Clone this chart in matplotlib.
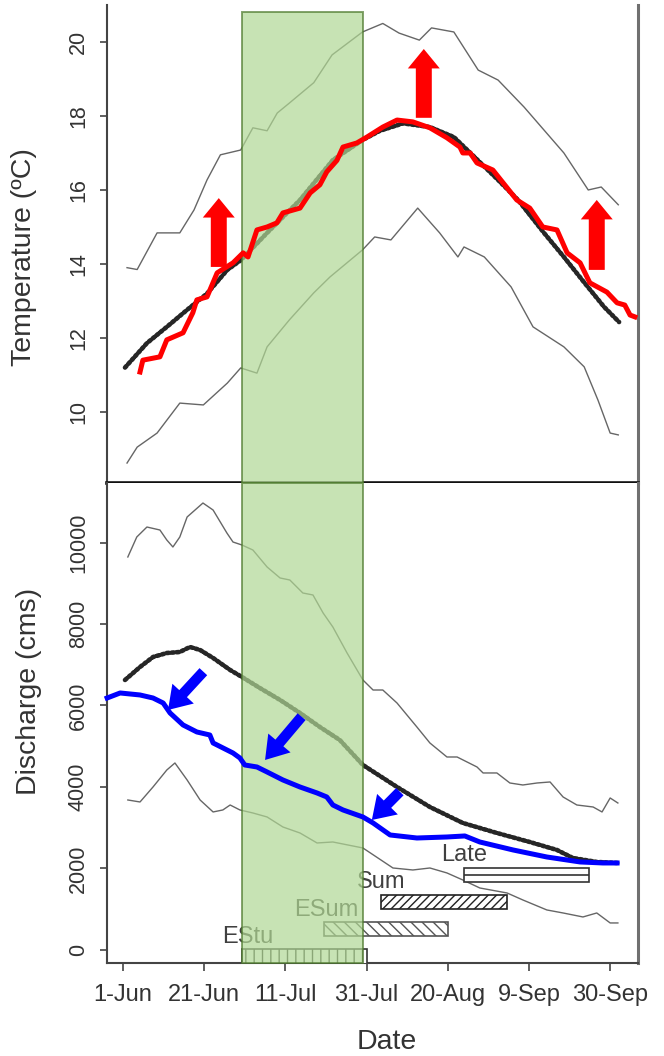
import numpy as np
import matplotlib
matplotlib.use("Agg")
import matplotlib.pyplot as plt
import matplotlib.patches as mpatches

plt.rcParams["font.family"] = ["Liberation Sans", "DejaVu Sans"]
plt.rcParams["hatch.linewidth"] = 1.0

# x is days since 1 June
tick_days = [0, 20, 40, 60, 80, 100, 120]
tick_labels = ["1-Jun", "21-Jun", "11-Jul", "31-Jul", "20-Aug", "9-Sep", "30-Sep"]

# water temperature (deg C)
tmax_day = [1, 3.5, 8.4, 14, 17.5, 20.7, 24, 29, 32, 35.5, 38, 41, 47, 51.5, 59, 64, 68, 73, 76,
            81.5, 87.5, 92.4, 98.8, 108.6, 114.6, 117.8, 122]
tmax_val = [13.9, 13.85, 14.84, 14.84, 15.46, 16.27, 16.95, 17.08, 17.68, 17.6, 18.08, 18.35, 18.9,
            19.65, 20.27, 20.5, 20.24, 20.05, 20.38, 20.27, 19.24, 18.97, 18.24, 17.0, 16.0, 16.08, 15.6]

tmin_day = [1, 3.5, 8.4, 14, 19.8, 25.7, 29, 33, 35.5, 41, 47, 51, 59, 62, 66, 72.6, 78, 82.5, 84,
            89, 95.6, 101, 108.6, 113.6, 117, 120, 122]
tmin_val = [8.62, 9.05, 9.43, 10.24, 10.19, 10.78, 11.19, 11.05, 11.76, 12.49, 13.22, 13.65, 14.38,
            14.73, 14.65, 15.51, 14.84, 14.19, 14.46, 14.19, 13.38, 12.3, 11.76, 11.22, 10.32, 9.43, 9.38]

tmean_day = [0.5, 5.9, 10.8, 15.8, 20.7, 25.7, 29, 35.5, 43.6, 51.7, 59, 63.3, 69, 75.6, 81.5, 86.5,
             92.4, 97.3, 103.7, 108.6, 113.6, 118.5, 122.2]
tmean_val = [11.2, 11.86, 12.3, 12.76, 13.2, 13.84, 14.1, 14.84, 15.73, 16.81, 17.35, 17.6, 17.8,
             17.7, 17.43, 16.9, 16.27, 15.73, 14.84, 14.19, 13.5, 12.84, 12.43]

tfut_day = [4.2, 4.9, 9.1, 10.8, 14.8, 17.2, 18.2, 20.7, 23.2, 27.1, 29.6, 30.8, 33.0, 35.5, 37.9,
            39.4, 43.6, 46.1, 48.5, 50.2, 52.7, 54.2, 57.6, 60.1, 64.0, 67.5, 71.4, 75.6, 79.8, 83.0,
            83.7, 85.5, 87.2, 91.1, 97.0, 100.2, 103.4, 106.9, 109.4, 112.6, 115.0, 119.2, 121.7,
            123.6, 124.9, 126.1]
tfut_val = [11.08, 11.4, 11.49, 11.95, 12.14, 12.68, 13.03, 13.11, 13.76, 14.03, 14.3, 14.19, 14.92,
            15.0, 15.11, 15.38, 15.51, 15.92, 16.14, 16.49, 16.8, 17.16, 17.27, 17.43, 17.7, 17.89,
            17.84, 17.68, 17.41, 17.16, 17.0, 17.0, 16.73, 16.54, 15.73, 15.51, 15.0, 14.92, 14.3,
            14.03, 13.49, 13.24, 12.95, 12.89, 12.62, 12.57]

# discharge (cms)
qmax_day = [1.2, 3.4, 5.9, 9.1, 10.8, 12.3, 14.0, 15.8, 19.7, 22.2, 25.6, 27.1, 29.3, 32.0, 35.5,
            38.7, 41.1, 44.3, 46.8, 49.3, 51.7, 55.2, 59.1, 61.6, 64.0, 67.5, 72.4, 75.6, 79.8, 82.3,
            87.2, 88.7, 92.1, 95.3, 98.5, 102.0, 105.2, 108.4, 111.8, 115.8, 118.0, 120.0, 121.9]
qmax_val = [9645, 10135, 10380, 10307, 10061, 9890, 10135, 10626, 10969, 10797, 10233, 10012, 9939,
            9816, 9399, 9129, 9080, 8761, 8712, 8270, 7926, 7288, 6626, 6380, 6380, 6061, 5472, 5080,
            4736, 4736, 4491, 4344, 4344, 4098, 4049, 4098, 4123, 3755, 3558, 3509, 3387, 3730, 3607]

qmean_day = [0.5, 4.2, 7.4, 10.8, 14.0, 16.5, 19.0, 22.2, 26.4, 29.3, 33.7, 38.7, 43.6, 48.5, 53.4,
             59.1, 67.5, 75.6, 83.7, 92.1, 100.2, 106.9, 110.8, 116.7, 121.9]
qmean_val = [6626, 6945, 7190, 7288, 7313, 7436, 7362, 7166, 6871, 6700, 6430, 6135, 5816, 5472, 5153,
             4540, 4000, 3509, 3117, 2871, 2650, 2454, 2258, 2160, 2135]

qmin_day = [1.2, 4.2, 7.4, 10.8, 12.8, 15.8, 19.0, 22.2, 24.6, 26.4, 28.8, 32.0, 35.5, 39.4, 43.6,
            47.8, 51.7, 59.1, 66.5, 71.4, 75.6, 79.8, 83.7, 87.9, 94.6, 98.5, 104.4, 108.4, 113.3,
            116.7, 120.0, 121.9]
qmin_val = [3681, 3632, 4000, 4417, 4589, 4172, 3681, 3387, 3436, 3558, 3436, 3362, 3264, 3018, 2871,
            2626, 2650, 2503, 2012, 1963, 2012, 1890, 1718, 1521, 1399, 1227, 982, 908, 810, 908, 663, 663]

qfut_day = [-3.9, -0.7, 4.2, 7.4, 9.9, 11.6, 14.8, 18.2, 21.4, 22.2, 27.1, 28.8, 30.0, 33.0, 35.5,
            39.4, 43.6, 47.8, 50.2, 51.7, 54.2, 59.1, 61.6, 65.8, 72.4, 79.8, 84.2, 87.9, 96.1, 104.4,
            112.6, 118.2, 121.7]
qfut_val = [6184, 6307, 6258, 6184, 6061, 5816, 5522, 5350, 5276, 5080, 4834, 4712, 4540, 4491, 4368,
            4172, 4000, 3853, 3755, 3558, 3436, 3264, 3117, 2822, 2748, 2773, 2798, 2650, 2454, 2282,
            2160, 2135, 2135]

# run timing windows
runs = ["EStu", "ESum", "Sum", "Late"]
run_start = [29.3, 49.5, 63.5, 84.0]
run_end = [60.0, 80.0, 94.6, 114.8]
run_level = [-160, 510, 1180, 1850]
run_hatch = ["||", "\\\\\\", "////", ""]
run_edge = ["#333333", "#555555", "#222222", "#333333"]
label_shift = [4, 2, 0, 0]  # label nudge, points

# highlighted period
window = (29.3, 59.1)
window_top = 20.8

# arrows: (x_tail, y_tail, x_tip, y_tip)
temp_arrows = [(23.6, 13.92, 23.6, 15.78), (74.1, 17.95, 74.1, 19.81), (116.7, 13.84, 116.7, 15.73)]
flow_arrows = [(19.8, 6830, 11.1, 5890), (44.0, 5725, 35.0, 4663), (68.2, 3885, 61.3, 3190)]

TXT = "#333333"
GREY = "#666666"
GREEN_FILL = "#b0d894"
GREEN_EDGE = "#4e7a2e"

fig = plt.figure(figsize=(6.64, 10.56), dpi=100)
ax1 = fig.add_axes([0.1611, 0.5426, 0.7997, 0.4527])
ax2 = fig.add_axes([0.1611, 0.0881, 0.7997, 0.4545])

xlim = (-3.94, 126.85)
for ax in (ax1, ax2):
    ax.set_xlim(*xlim)
    ax.spines["left"].set_color("#444444")
    ax.spines["left"].set_linewidth(1.5)
    ax.spines["right"].set_color("#707070")
    ax.spines["right"].set_linewidth(2.2)
    ax.tick_params(axis="y", length=5, width=1.2, color="#444444", labelsize=15.5,
                   labelcolor=TXT, pad=8)

# temperature panel
ax1.set_ylim(8.08, 21.0)
ax1.spines["top"].set_visible(False)
ax1.spines["bottom"].set_color("#111111")
ax1.spines["bottom"].set_linewidth(2.6)
ax1.set_yticks([10, 12, 14, 16, 18, 20])
ax1.set_xticks([])
ax1.plot(tmax_day, tmax_val, color=GREY, lw=1.0)
ax1.plot(tmin_day, tmin_val, color=GREY, lw=1.0)
ax1.plot(tmean_day, tmean_val, color="#262626", lw=3.3, ls=(0, (0.5, 0.6)),
         dash_capstyle="round")
ax1.set_ylabel("Temperature (\u00baC)", fontsize=20.5, color=TXT)
ax1.yaxis.set_label_coords(-0.132, 0.473)

# discharge panel
ax2.set_ylim(-319, 11460)
ax2.spines["top"].set_visible(False)
ax2.spines["bottom"].set_color("#444444")
ax2.spines["bottom"].set_linewidth(1.5)
ax2.set_yticks([0, 2000, 4000, 6000, 8000, 10000])
ax2.set_xticks(tick_days)
ax2.set_xticklabels(tick_labels)
ax2.tick_params(axis="x", length=6, width=1.2, color="#444444", labelsize=17,
                labelcolor=TXT, pad=9)
for ax in (ax1, ax2):
    for lab in ax.get_yticklabels():
        lab.set_rotation(90)
        lab.set_va("center")
ax2.plot(qmax_day, qmax_val, color=GREY, lw=1.0)
ax2.plot(qmin_day, qmin_val, color=GREY, lw=1.0)
ax2.plot(qmean_day, qmean_val, color="#262626", lw=3.3, ls=(0, (0.5, 0.6)),
         dash_capstyle="round")
ax2.set_ylabel("Discharge (cms)", fontsize=20.5, color=TXT)
ax2.yaxis.set_label_coords(-0.122, 0.565)
ax2.set_xlabel("Date", fontsize=20.5, color=TXT)
ax2.xaxis.set_label_coords(0.527, -0.137)

# run timing bars and their labels
bar_h = 345
for name, s, e, lev, h, ec, dx in zip(runs, run_start, run_end, run_level, run_hatch,
                                      run_edge, label_shift):
    ax2.barh(lev, e - s, left=s, height=bar_h, color="white", edgecolor=ec,
             hatch=h, lw=1.2, zorder=3)
    if h == "":
        ax2.hlines(lev, s, e, color=ec, lw=1.2, zorder=4)
    ax2.annotate(name, (s, lev + bar_h / 2), xytext=(dx, 1), textcoords="offset points",
                 ha="center", va="bottom", fontsize=17, color="#404040", zorder=4)

# shaded period over both panels
ax1.add_patch(mpatches.Rectangle((window[0], ax1.get_ylim()[0]), window[1] - window[0],
                                 window_top - ax1.get_ylim()[0], facecolor=GREEN_FILL,
                                 edgecolor=GREEN_EDGE, lw=1.4, alpha=0.7, zorder=5,
                                 clip_on=False))
ax2.add_patch(mpatches.Rectangle((window[0], ax2.get_ylim()[0]), window[1] - window[0],
                                 ax2.get_ylim()[1] - ax2.get_ylim()[0], facecolor=GREEN_FILL,
                                 edgecolor=GREEN_EDGE, lw=1.4, alpha=0.7, zorder=5,
                                 clip_on=False))

# projected conditions
ax1.plot(tfut_day, tfut_val, color="#ff0000", lw=3.6, zorder=6, solid_joinstyle="round")
ax2.plot(qfut_day, qfut_val, color="#0000ff", lw=3.6, zorder=6, solid_joinstyle="round",
         clip_on=False)

for x0, y0, x1, y1 in temp_arrows:
    ax1.add_patch(mpatches.FancyArrowPatch(
        (x0, y0), (x1, y1), mutation_scale=1, shrinkA=0, shrinkB=0, color="#ff0000", lw=0,
        arrowstyle=mpatches.ArrowStyle.Simple(head_length=14, head_width=23, tail_width=11.5),
        zorder=7))
for x0, y0, x1, y1 in flow_arrows:
    ax2.add_patch(mpatches.FancyArrowPatch(
        (x0, y0), (x1, y1), mutation_scale=1, shrinkA=0, shrinkB=0, color="#0000ff", lw=0,
        arrowstyle=mpatches.ArrowStyle.Simple(head_length=16, head_width=21, tail_width=7.5),
        zorder=7))

fig.savefig("out.png", dpi=100)
